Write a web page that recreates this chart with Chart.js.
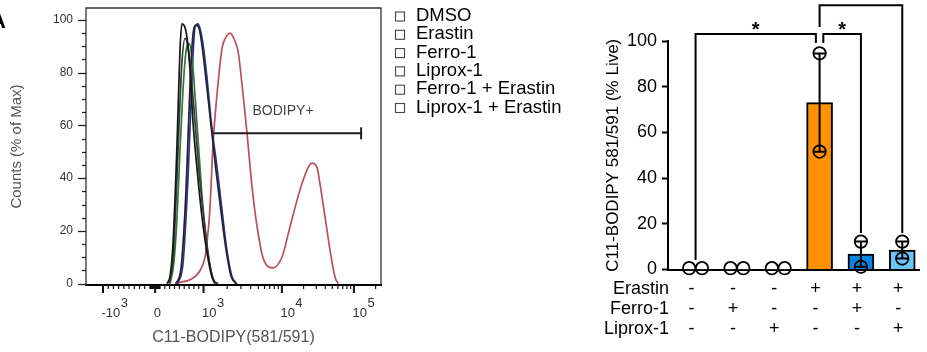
<!DOCTYPE html>
<html><head><meta charset="utf-8">
<script src="https://cdn.jsdelivr.net/npm/chart.js@4.4.1/dist/chart.umd.min.js"></script>
<style>
html,body{margin:0;padding:0;background:#fff;width:927px;height:352px;overflow:hidden}
#wrap{position:relative;width:927px;height:352px}
canvas{position:absolute;top:0}
#histo{left:0}
#bars{left:580px}
</style></head><body>
<div id="wrap"><canvas id="histo" width="580" height="352"></canvas><canvas id="bars" width="347" height="352"></canvas></div>
<script>
const FONT = "'Liberation Sans', Arial, Helvetica, sans-serif";

// ---------------- Panel A: C11-BODIPY histogram (display channels 0-1024, biexponential axis) ----------------
const seriesNames  = ['DMSO','Erastin','Ferro-1','Liprox-1','Ferro-1 + Erastin','Liprox-1 + Erastin'];
const seriesColors = ['#161616','#b9505c','#3a3a3a','#242424','#2f7a3a','#2c3199'];

const dmsoChannel = [281,292,302,316,326,333,344,351,361,371,385,403,420,437,448];
const dmsoCounts  = [0,3,15,53,88,98.5,97,93,81,62,44,25,11.7,2.6,0];

const erastinChannel = [309,326,361,396,413,420,430,441,455,472,489,500,517,528,545,559,576,594,614,649,680,708,736,753,771,784,802,812,830,847,864,875];
const erastinCounts  = [0,0.5,1.5,5,10,15.5,28,53,72,89,94,95,92,88,72,57,37,21.5,10,6,10,21.5,33,39,44,45.7,44,38,25,12.8,2.6,0];

const ferroChannel = [288,302,312,323,333,344,354,364,378,392,410,427,444,458];
const ferroCounts  = [0,9,30,60,84,93,90,80,62,43,24,9,1,0];

const liproxChannel = [312,330,347,361,371,382,392,403,417,434,451,469,486,503,521];
const liproxCounts  = [0,6,35,75,94,98,97,90,77,60,43,27,13,3,0];

const ferroErastinChannel = [292,305,316,326,337,347,358,368,378,392,406,423,441,458];
const ferroErastinCounts  = [0,8,25,50,74,88,91,86,72,50,29,12,2,0];

const liproxErastinChannel = [319,337,354,368,378,389,396,406,420,437,455,472,489,507,524];
const liproxErastinCounts  = [0,8,40,78,97,98.5,96.6,91,78,59,44,28,12.8,2.6,0];

// axis decades (value -> display channel) and their labels
const decadeValues   = [-1000, 0, 1000, 10000, 100000];
const decadeChannels = [59, 240, 408, 680, 930];
const decadeLabels   = [['-10','3'], ['0',''], ['10','3'], ['10','4'], ['10','5']];
const countTicks     = [0, 20, 40, 60, 80, 100];

// BODIPY+ gate
const gateChannels = [441, 955];
const gateLevel    = 57;
const gateName     = 'BODIPY+';
const gateLabelAt  = [684, 65.4];

// ---------------- Panel B: bar chart ----------------
const groupNames = ['DMSO','Ferro-1','Liprox-1','Erastin','Ferro-1 + Erastin','Liprox-1 + Erastin'];
const meanValues = [0.6, 0.6, 0.6, 73, 6.7, 8.5];
const rep1Values = [0.6, 0.6, 0.6, 94.6, 12.2, 12.2];
const rep2Values = [0.6, 0.6, 0.6, 51.6, 1.2, 4.8];
const barColors  = ['#ffffff','#ffffff','#ffffff','#FF9100','#0A84E0','#6CC5F7'];
const erastinRow = ['-','-','-','+','+','+'];
const ferroRow   = ['-','+','-','-','+','-'];
const liproxRow  = ['-','-','+','-','-','+'];
const rowTitles  = ['Erastin','Ferro-1','Liprox-1'];
const yBarTicks  = [0,20,40,60,80,100];
const sigBrackets = [
  {from:0, to:3, fromShift:0,    toShift:-0.09, level:103.1, fromEnd:4.2,   toEnd:99.1, mark:'*'},
  {from:3, to:4, fromShift:0.09, toShift:0,     level:103.1, fromEnd:99.1,  toEnd:16,   mark:'*'},
  {from:3, to:5, fromShift:0,    toShift:0,     level:115.7, fromEnd:106.1, toEnd:16,   mark:''}
];

// ---------- helpers ----------
function valueToChannel(v){
  const V = decadeValues, C = decadeChannels;
  let i = 0;
  while (i < V.length - 2 && v > V[i+1]) i++;
  const a = V[i], b = V[i+1];
  if (a >= 1000) return C[i] + (Math.log10(v) - Math.log10(a)) / (Math.log10(b) - Math.log10(a)) * (C[i+1] - C[i]);
  return C[i] + (v - a) / (b - a) * (C[i+1] - C[i]);
}
const minorValues = [];
for (let k = 1; k <= 9; k++) { minorValues.push(-k*100, -k*10, k*10, k*100); }
[1000, 10000, 100000].forEach(d => { for (let k = 2; k <= 9; k++) minorValues.push(k*d); });
const pts = (xs, ys) => xs.map((x, i) => ({x, y: ys[i]}));

const seriesData = {
  'DMSO': pts(dmsoChannel, dmsoCounts),
  'Erastin': pts(erastinChannel, erastinCounts),
  'Ferro-1': pts(ferroChannel, ferroCounts),
  'Liprox-1': pts(liproxChannel, liproxCounts),
  'Ferro-1 + Erastin': pts(ferroErastinChannel, ferroErastinCounts),
  'Liprox-1 + Erastin': pts(liproxErastinChannel, liproxErastinCounts)
};

const histDatasets = seriesNames.map((name, i) => ({
  label: name, data: seriesData[name], borderColor: seriesColors[i],
  borderWidth: 1.7, pointRadius: 0, fill: false, order: name === 'Erastin' ? 10 : i
}));
histDatasets.push({
  label: gateName, isGate: true,
  data: [{x: gateChannels[0], y: gateLevel}, {x: gateChannels[1], y: gateLevel}],
  borderColor: '#1e1e1e', borderWidth: 2, pointStyle: 'line', pointRadius: [0, 6],
  pointRotation: 90, pointBorderWidth: 2, pointBorderColor: '#1e1e1e', order: 0
});

const histPlugin = {
  id: 'histExtras',
  afterDraw(chart){
    const {ctx, chartArea: a, scales: {x, y}} = chart;
    ctx.save();
    // frame
    ctx.strokeStyle = '#333'; ctx.lineWidth = 1.3;
    ctx.beginPath();
    ctx.moveTo(a.left, a.bottom); ctx.lineTo(a.left, a.top); ctx.lineTo(a.right, a.top); ctx.lineTo(a.right, a.bottom);
    ctx.stroke();
    ctx.strokeStyle = '#000'; ctx.lineWidth = 2;
    ctx.beginPath(); ctx.moveTo(a.left - 1, a.bottom); ctx.lineTo(a.right + 1, a.bottom); ctx.stroke();
    // y ticks (major every 20, minor every 5)
    ctx.lineWidth = 1.3; ctx.strokeStyle = '#222';
    for (let v = 0; v <= 100; v += 5) {
      const py = Math.round(y.getPixelForValue(v)) + 0.5;
      const len = v % 20 === 0 ? 8 : 4;
      ctx.beginPath(); ctx.moveTo(a.left, py); ctx.lineTo(a.left - len, py); ctx.stroke();
    }
    // x ticks
    ctx.strokeStyle = '#111';
    minorValues.forEach(v => {
      const ch = valueToChannel(v);
      if (ch < x.min || ch > x.max) return;
      const px = x.getPixelForValue(ch);
      ctx.lineWidth = 1.2;
      ctx.beginPath(); ctx.moveTo(px, a.bottom); ctx.lineTo(px, a.bottom + 4); ctx.stroke();
    });
    decadeChannels.forEach((ch, i) => {
      const px = x.getPixelForValue(ch);
      ctx.lineWidth = 2;
      ctx.beginPath(); ctx.moveTo(px, a.bottom); ctx.lineTo(px, a.bottom + 8); ctx.stroke();
      // label with superscript exponent
      ctx.font = '13px ' + FONT; ctx.fillStyle = '#333'; ctx.textAlign = 'left'; ctx.textBaseline = 'alphabetic';
      const [base, exp] = decadeLabels[i];
      const lx = px - 1.5;
      ctx.fillText(base, lx, a.bottom + 31.5);
      if (exp) ctx.fillText(exp, lx + ctx.measureText(base).width + 0.5, a.bottom + 21.5);
    });
    // gate label
    ctx.font = '14px ' + FONT; ctx.fillStyle = '#444'; ctx.textAlign = 'center'; ctx.textBaseline = 'middle';
    ctx.fillText(gateName, x.getPixelForValue(gateLabelAt[0]), y.getPixelForValue(gateLabelAt[1]));
    // legend (hollow boxes)
    ctx.font = '18.5px ' + FONT; ctx.textAlign = 'left'; ctx.textBaseline = 'alphabetic';
    chart.data.datasets.filter(d => !d.isGate).sort((p, q) => seriesNames.indexOf(p.label) - seriesNames.indexOf(q.label))
      .forEach((d, i) => {
        const cy = 14.5 + i * 18.3;
        ctx.strokeStyle = '#444'; ctx.lineWidth = 1.1;
        ctx.strokeRect(395.5, cy - 2.5, 9, 9);
        ctx.fillStyle = '#000';
        ctx.fillText(d.label, 416, cy + 6.5);
      });
    // panel letter
    ctx.font = 'bold 22px ' + FONT; ctx.textAlign = 'right'; ctx.fillStyle = '#000';
    ctx.fillText('A', 6, 28);
    ctx.restore();
  }
};

new Chart(document.getElementById('histo'), {
  type: 'line',
  data: { datasets: histDatasets },
  options: {
    responsive: false, animation: false, devicePixelRatio: 1,
    layout: { padding: { top: 6, right: 199, left: 0, bottom: 0 } },
    plugins: { legend: { display: false }, tooltip: { enabled: false } },
    elements: { line: { tension: 0, cubicInterpolationMode: 'monotone' } },
    scales: {
      x: {
        type: 'linear', min: 0, max: 1024,
        grid: { display: false, drawTicks: false }, border: { display: false }, ticks: { display: false },
        title: { display: true, text: 'C11-BODIPY(581/591)', color: '#555', font: { size: 16, family: FONT }, padding: { top: 0, bottom: 5 } },
        afterFit: s => { s.height = 67; s.paddingLeft = 0; s.paddingRight = 0; }
      },
      y: {
        type: 'linear', min: -0.5, max: 104.5,
        grid: { display: false, drawTicks: false }, border: { display: false },
        afterBuildTicks: s => { s.ticks = countTicks.map(v => ({ value: v })); },
        ticks: { color: '#333', font: { size: 12, family: FONT }, padding: 13 },
        title: { display: true, text: 'Counts (% of Max)', color: '#555', font: { size: 15, family: FONT }, padding: { top: 8, bottom: 0 } },
        afterFit: s => { s.width = 86; s.paddingTop = 0; s.paddingBottom = 0; }
      }
    }
  },
  plugins: [histPlugin]
});

// ---------------- Panel B ----------------
const scatterPts = [];
meanValues.forEach((m, i) => {
  const spread = Math.abs(rep1Values[i] - rep2Values[i]) < 3 ? 0.155 : 0;
  scatterPts.push({ x: i - spread, y: rep1Values[i] }, { x: i + spread, y: rep2Values[i] });
});

const barPlugin = {
  id: 'barExtras',
  afterDatasetsDraw(chart){
    const {ctx, scales: {x, y}} = chart;
    ctx.save(); ctx.strokeStyle = '#000'; ctx.lineWidth = 2;
    meanValues.forEach((m, i) => {
      const sem = Math.abs(rep1Values[i] - rep2Values[i]) / 2;
      const top = y.getPixelForValue(m + sem), bot = y.getPixelForValue(m - sem);
      if (bot - top < 2) return;
      const cx = x.getPixelForValue(i);
      ctx.beginPath();
      ctx.moveTo(cx, top); ctx.lineTo(cx, bot);
      ctx.moveTo(cx - 6.5, top); ctx.lineTo(cx + 6.5, top);
      ctx.moveTo(cx - 6.5, bot); ctx.lineTo(cx + 6.5, bot);
      ctx.stroke();
    });
    ctx.restore();
  },
  afterDraw(chart){
    const {ctx, chartArea: a, scales: {x, y}} = chart;
    ctx.save();
    ctx.strokeStyle = '#000'; ctx.lineWidth = 2; ctx.lineJoin = 'miter'; ctx.fillStyle = '#000';
    sigBrackets.forEach(b => {
      const x1 = x.getPixelForValue(b.from + b.fromShift), x2 = x.getPixelForValue(b.to + b.toShift);
      const yl = y.getPixelForValue(b.level);
      ctx.beginPath();
      ctx.moveTo(x1, y.getPixelForValue(b.fromEnd)); ctx.lineTo(x1, yl); ctx.lineTo(x2, yl); ctx.lineTo(x2, y.getPixelForValue(b.toEnd));
      ctx.stroke();
      if (b.mark) {
        ctx.font = 'bold 20px ' + FONT; ctx.textAlign = 'center'; ctx.textBaseline = 'alphabetic';
        ctx.fillText(b.mark, (x1 + x2) / 2, yl + 2);
      }
    });
    // treatment table
    const rows = [erastinRow, ferroRow, liproxRow];
    ctx.font = '18px ' + FONT; ctx.textBaseline = 'alphabetic';
    rows.forEach((row, r) => {
      const by = a.bottom + 24 + r * 20;
      ctx.textAlign = 'right';
      ctx.fillText(rowTitles[r], 89, by);
      ctx.textAlign = 'center';
      row.forEach((s, i) => ctx.fillText(s, x.getPixelForValue(i) - 4, by));
    });
    ctx.restore();
  }
};

new Chart(document.getElementById('bars'), {
  type: 'bar',
  data: {
    datasets: [
      {
        type: 'scatter', label: 'replicates', data: scatterPts,
        pointRadius: 6.2, pointBorderWidth: 1.8, pointBorderColor: '#000',
        pointBackgroundColor: 'rgba(0,0,0,0)', clip: false, order: 1
      },
      {
        type: 'bar', label: 'mean', data: meanValues.map((v, i) => ({ x: i, y: v })),
        backgroundColor: barColors, borderColor: '#000',
        borderWidth: ctx => (ctx.raw && ctx.raw.y < 2 ? 0 : 2),
        barThickness: 26, order: 2
      }
    ]
  },
  options: {
    responsive: false, animation: false, devicePixelRatio: 1,
    layout: { padding: { top: 41, right: 4, left: 0, bottom: 0 } },
    plugins: { legend: { display: false }, tooltip: { enabled: false } },
    scales: {
      x: {
        type: 'linear', min: -0.667, max: 5.405, offset: false,
        grid: { display: false, drawTicks: false }, ticks: { display: false },
        border: { display: true, width: 2, color: '#000' },
        afterFit: s => { s.height = 82.5; }
      },
      y: {
        type: 'linear', min: 0, max: 100,
        afterBuildTicks: s => { s.ticks = yBarTicks.map(v => ({ value: v })); },
        ticks: { color: '#000', font: { size: 18, family: FONT }, padding: 5 },
        grid: { drawOnChartArea: false, drawTicks: true, tickLength: 6, tickWidth: 2, tickColor: '#000' },
        border: { display: true, width: 2, color: '#000' },
        title: { display: true, text: 'C11-BODIPY 581/591 (% Live)', color: '#000', font: { size: 17, family: FONT }, padding: { top: 23, bottom: 0 } },
        afterFit: s => { s.width = 88; }
      }
    }
  },
  plugins: [barPlugin]
});
</script>
</body></html>
